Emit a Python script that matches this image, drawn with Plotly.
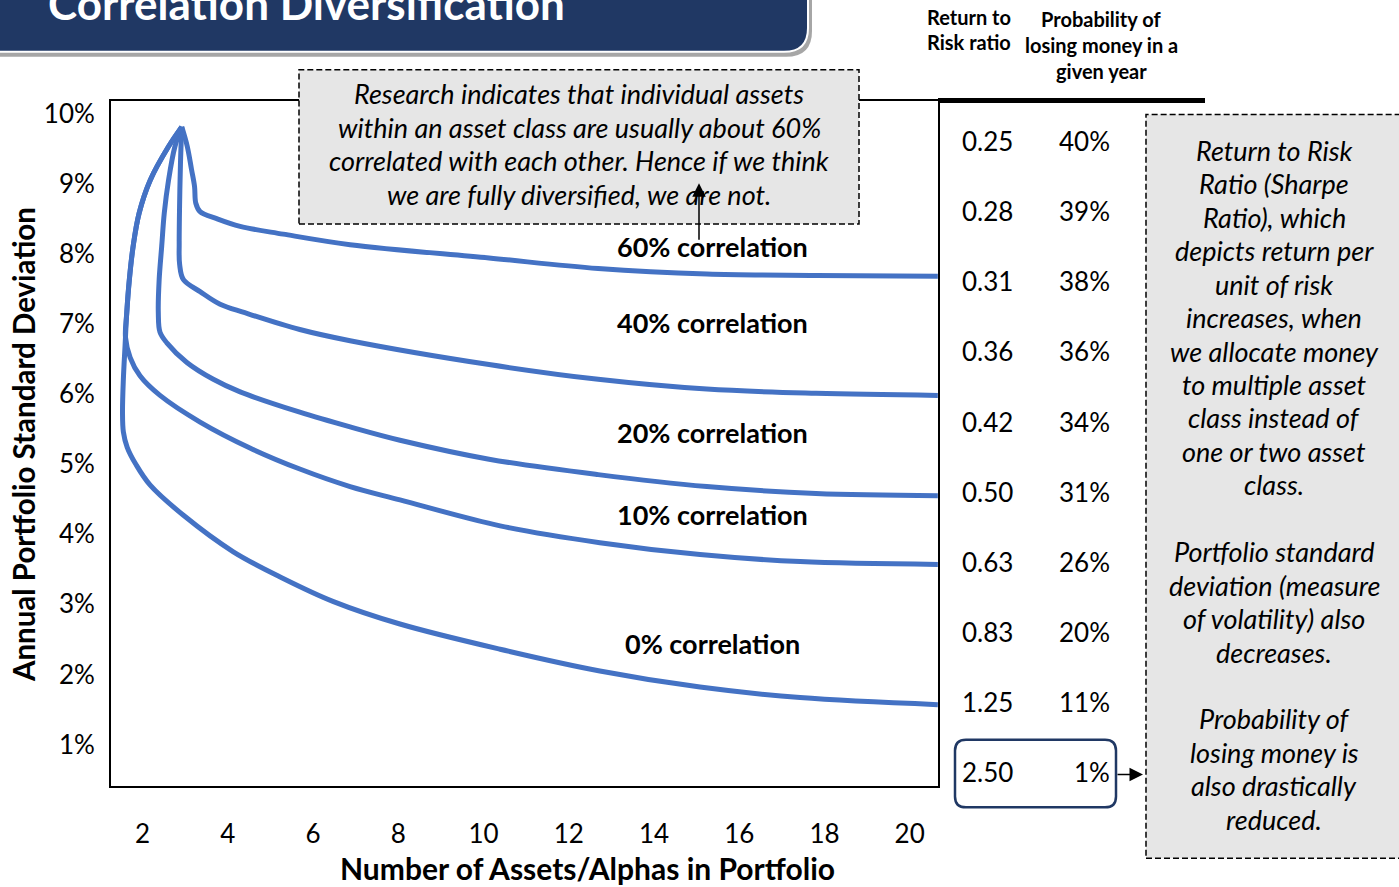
import plotly.graph_objects as go

W, H = 1399, 887

# ---------------- data ----------------
series_names = ["60% correlation", "40% correlation", "20% correlation",
                "10% correlation", "0% correlation"]

x_60 = [2.92, 3.05, 3.15, 3.22, 3.25, 3.35, 3.74, 4.29, 5.30, 6.87, 10.13, 12.69, 15.24, 17.80, 20.66]
y_60 = [9.81, 9.53, 9.20, 8.96, 8.72, 8.60, 8.50, 8.39, 8.28, 8.13, 7.94, 7.79, 7.71, 7.69, 7.68]

x_40 = [2.92, 2.89, 2.87, 2.86, 2.87, 2.96, 3.35, 3.82, 4.40, 5.69, 6.87, 10.13, 12.69, 15.24, 17.80, 20.66]
y_40 = [9.81, 9.29, 8.72, 8.15, 7.85, 7.63, 7.46, 7.28, 7.16, 6.92, 6.76, 6.42, 6.21, 6.07, 6.01, 5.98]

x_20 = [2.92, 2.76, 2.61, 2.51, 2.45, 2.39, 2.37, 2.41, 2.57, 3.04, 3.66, 4.29, 5.69, 6.87, 8.04, 10.13, 12.69, 15.24, 17.80, 20.66]
y_20 = [9.81, 9.53, 9.05, 8.58, 8.11, 7.63, 7.16, 6.88, 6.73, 6.45, 6.21, 6.03, 5.74, 5.53, 5.34, 5.07, 4.85, 4.68, 4.58, 4.55]

x_10 = [2.92, 2.61, 2.18, 1.92, 1.78, 1.69, 1.63, 1.60, 1.71, 1.94, 2.41, 3.35, 4.52, 5.69, 6.87, 8.04, 10.39, 12.73, 15.08, 17.43, 20.66]
y_10 = [9.81, 9.53, 9.05, 8.58, 8.11, 7.63, 7.16, 6.81, 6.52, 6.26, 5.98, 5.60, 5.23, 4.93, 4.68, 4.49, 4.12, 3.88, 3.71, 3.61, 3.57]

x_0 = [2.92, 2.61, 2.18, 1.92, 1.78, 1.69, 1.63, 1.59, 1.55, 1.53, 1.55, 1.64, 1.85, 2.18, 2.96, 4.13, 5.30, 6.48, 8.04, 10.39, 12.73, 15.08, 17.43, 20.66]
y_0 = [9.81, 9.53, 9.05, 8.58, 8.11, 7.63, 7.16, 6.69, 6.21, 5.74, 5.46, 5.24, 4.99, 4.70, 4.27, 3.75, 3.37, 3.04, 2.72, 2.36, 2.05, 1.82, 1.67, 1.57]

x_ticks = [2, 4, 6, 8, 10, 12, 14, 16, 18, 20]
y_ticks = [1, 2, 3, 4, 5, 6, 7, 8, 9, 10]
y_tick_text = [f"{v}%" for v in y_ticks]

ratio_vals = ["0.25", "0.28", "0.31", "0.36", "0.42", "0.50", "0.63", "0.83", "1.25", "2.50"]
prob_vals = ["40%", "39%", "38%", "36%", "34%", "31%", "26%", "20%", "11%", "1%"]

title_text = "Correlation Diversification"
x_title = "Number of Assets/Alphas in Portfolio"
y_title = "Annual Portfolio Standard Deviation"
hdr_ratio = ["Return to", "Risk ratio"]
hdr_prob = ["Probability of", "losing money in a", "given year"]
top_note = ["Research indicates that individual assets",
            "within an asset class are usually about 60%",
            "correlated with each other. Hence if we think",
            "we are fully diversified, we are not."]
side_note = ["Return to Risk", "Ratio (Sharpe", "Ratio), which", "depicts return per",
             "unit of risk", "increases, when", "we allocate money", "to multiple asset",
             "class instead of", "one or two asset", "class.", "",
             "Portfolio standard", "deviation (measure", "of volatility) also",
             "decreases.", "", "Probability of", "losing money is",
             "also drastically", "reduced."]

# ---------------- helpers (pixel -> paper) ----------------
DY = -3  # small vertical correction for text placement


def px(x):
    return x / W


def py(y):
    return 1 - y / H


def ty(y):
    return py(y + DY)


FONT = "Lato"
BLUE = "#4472C4"
NAVY = "#203864"

fig = go.Figure()
xs = [x_60, x_40, x_20, x_10, x_0]
ys = [y_60, y_40, y_20, y_10, y_0]
for name, xv, yv in zip(series_names, xs, ys):
    fig.add_trace(go.Scatter(x=xv, y=yv, name=name, mode="lines",
                             line=dict(color=BLUE, width=5, shape="spline", smoothing=1.0),
                             showlegend=False, hoverinfo="skip"))

annotations = []
shapes = []

# title banner
shapes.append(dict(type="path", xref="paper", yref="paper", layer="above",
                   path=f"M {px(0)},{py(-5)} L {px(812)},{py(-5)} L {px(812)},{py(27)} "
                        f"Q {px(812)},{py(53)} {px(786)},{py(53)} L {px(0)},{py(53)} Z",
                   fillcolor="#A6A6A6", line=dict(width=0)))
shapes.append(dict(type="path", xref="paper", yref="paper", layer="above",
                   path=f"M {px(-5)},{py(-5)} L {px(808)},{py(-5)} L {px(808)},{py(24)} "
                        f"Q {px(808)},{py(48)} {px(784)},{py(48)} L {px(-5)},{py(48)} Z",
                   fillcolor=NAVY, line=dict(color="white", width=2)))
annotations.append(dict(xref="paper", yref="paper", x=px(306), y=py(-1), text=f"<b>{title_text}</b>",
                        showarrow=False, xanchor="center", yanchor="middle",
                        font=dict(family=FONT, size=44, color="white")))

# top dashed note box
shapes.append(dict(type="rect", xref="paper", yref="paper", layer="above",
                   x0=px(299), x1=px(859), y0=py(221), y1=py(66),
                   fillcolor="#E6E6E6", line=dict(color="black", width=1.5, dash="6px,3px")))
for i, line in enumerate(top_note):
    annotations.append(dict(xref="paper", yref="paper", x=px(579), y=ty(93 + i * 33.7),
                            text=f"<i>{line}</i>", showarrow=False, xanchor="center",
                            yanchor="middle", font=dict(family=FONT, size=27, color="black")))

# side dashed note box
shapes.append(dict(type="rect", xref="paper", yref="paper", layer="above",
                   x0=px(1146), x1=px(1410), y0=py(858), y1=py(111),
                   fillcolor="#E6E6E6", line=dict(color="black", width=1.5, dash="6px,3px")))
for i, line in enumerate(side_note):
    if line:
        annotations.append(dict(xref="paper", yref="paper", x=px(1274), y=ty(150 + i * 33.6),
                                text=f"<i>{line}</i>", showarrow=False, xanchor="center",
                                yanchor="middle", font=dict(family=FONT, size=27, color="black")))

# table header
for i, line in enumerate(hdr_ratio):
    annotations.append(dict(xref="paper", yref="paper", x=px(969), y=ty(16 + i * 25.5),
                            text=f"<b>{line}</b>", showarrow=False, xanchor="center",
                            yanchor="middle", font=dict(family=FONT, size=20, color="black")))
for i, line in enumerate(hdr_prob):
    annotations.append(dict(xref="paper", yref="paper", x=px(1101), y=ty(18 + i * 26),
                            text=f"<b>{line}</b>", showarrow=False, xanchor="center",
                            yanchor="middle", font=dict(family=FONT, size=20, color="black")))
shapes.append(dict(type="line", xref="paper", yref="paper", layer="above",
                   x0=px(938), x1=px(1205), y0=py(97), y1=py(97),
                   line=dict(color="black", width=5)))

# table values
for i, (r, p) in enumerate(zip(ratio_vals, prob_vals)):
    yy = ty(141 + i * 70.35)
    annotations.append(dict(xref="paper", yref="paper", x=px(960), y=yy, text=r,
                            showarrow=False, xanchor="left", yanchor="middle",
                            font=dict(family=FONT, size=26, color="black")))
    annotations.append(dict(xref="paper", yref="paper", x=px(1112), y=yy, text=p,
                            showarrow=False, xanchor="right", yanchor="middle",
                            font=dict(family=FONT, size=26, color="black")))

# rounded highlight box
r = 11
x0b, x1b, y0b, y1b = 955, 1116, 739, 807
shapes.append(dict(type="path", xref="paper", yref="paper", layer="below",
                   path=(f"M {px(x0b + r)},{py(y0b)} L {px(x1b - r)},{py(y0b)} "
                         f"Q {px(x1b)},{py(y0b)} {px(x1b)},{py(y0b + r)} "
                         f"L {px(x1b)},{py(y1b - r)} Q {px(x1b)},{py(y1b)} {px(x1b - r)},{py(y1b)} "
                         f"L {px(x0b + r)},{py(y1b)} Q {px(x0b)},{py(y1b)} {px(x0b)},{py(y1b - r)} "
                         f"L {px(x0b)},{py(y0b + r)} Q {px(x0b)},{py(y0b)} {px(x0b + r)},{py(y0b)} Z"),
                   fillcolor="white", line=dict(color=NAVY, width=2.5)))

# arrows
annotations.append(dict(xref="paper", yref="paper", x=px(699), y=py(180), ax=0, ay=58,
                        axref="pixel", ayref="pixel", text="", showarrow=True,
                        arrowhead=2, arrowsize=1.8, arrowwidth=1.5, arrowcolor="black"))
annotations.append(dict(xref="paper", yref="paper", x=px(1143), y=py(774), ax=-27, ay=0,
                        axref="pixel", ayref="pixel", text="", showarrow=True,
                        arrowhead=2, arrowsize=1.8, arrowwidth=1.5, arrowcolor="black"))

# correlation labels
label_y = [247, 323, 433, 516, 645]
for name, ly in zip(series_names, label_y):
    annotations.append(dict(xref="paper", yref="paper", x=px(712), y=ty(ly),
                            text=f"<b>{name}</b>", showarrow=False, xanchor="center",
                            yanchor="middle", font=dict(family=FONT, size=27, color="black")))

# axis titles
annotations.append(dict(xref="paper", yref="paper", x=px(587), y=ty(871),
                        text=f"<b>{x_title}</b>", showarrow=False, xanchor="center",
                        yanchor="middle", font=dict(family=FONT, size=30, color="black")))
annotations.append(dict(xref="paper", yref="paper", x=px(23), y=py(443), textangle=-90,
                        text=f"<b>{y_title}</b>", showarrow=False, xanchor="center",
                        yanchor="middle", font=dict(family=FONT, size=29.5, color="black")))

fig.update_layout(
    width=W, height=H,
    margin=dict(l=0, r=0, t=0, b=0),
    paper_bgcolor="white", plot_bgcolor="white",
    showlegend=False,
    xaxis=dict(domain=[px(111), px(938)], range=[1.26, 20.664], tickvals=x_ticks,
               showgrid=False, zeroline=False, showline=True, linecolor="black",
               linewidth=2, mirror=True, ticks="", ticklabelstandoff=23,
               tickfont=dict(family=FONT, size=26, color="black")),
    yaxis=dict(domain=[py(786), py(97)], range=[0.403, 10.185], tickvals=y_ticks,
               ticktext=y_tick_text, showgrid=False, zeroline=False, showline=True,
               linecolor="black", linewidth=2, mirror=True, ticks="", ticklabelstandoff=9,
               tickfont=dict(family=FONT, size=26, color="black")),
    annotations=annotations,
    shapes=shapes,
)

fig.write_html("out.html", config={"displayModeBar": False},
               post_script="document.body.style.margin='0';document.body.style.overflow='hidden';")
